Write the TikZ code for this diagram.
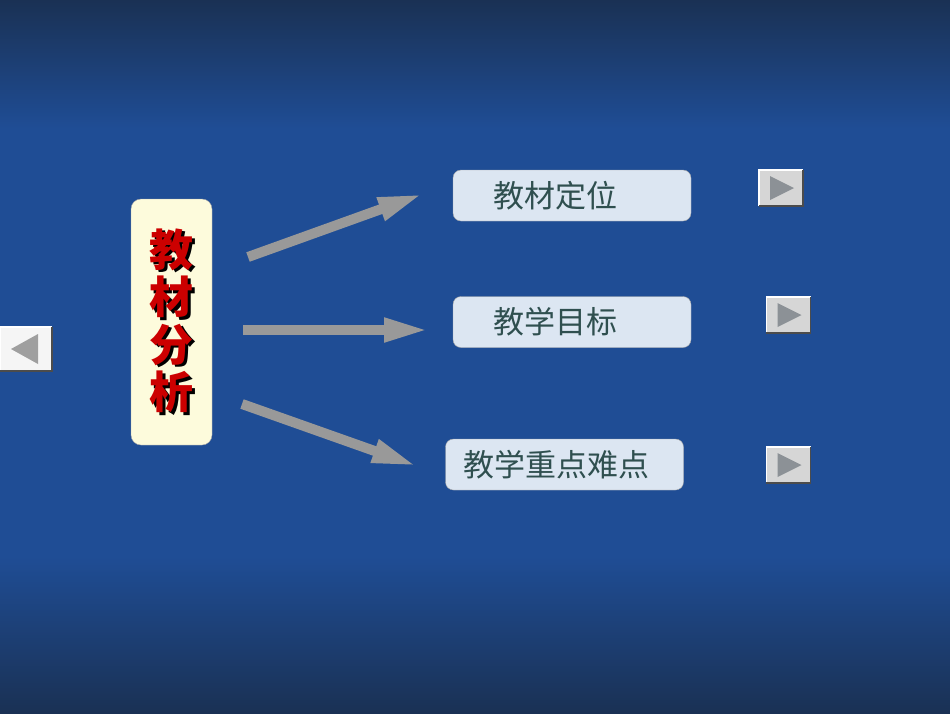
\documentclass[tikz,border=0pt]{standalone}
\usepackage{fontspec}
\newfontfamily\cjk{Noto Sans CJK SC}
\usetikzlibrary{arrows.meta,positioning}
\definecolor{bgdark}{HTML}{1A3154}
\definecolor{bgmid}{HTML}{1F4D95}
\definecolor{boxyellow}{HTML}{FDFBDC}
\definecolor{boxblue}{HTML}{DCE6F2}
\definecolor{boxtext}{HTML}{2F4F4F}
\definecolor{btnface}{HTML}{D6D6D6}
\definecolor{btntri}{HTML}{8C9196}
\pgfdeclareverticalshading{bgshade}{100bp}{color(0bp)=(bgdark); color(25bp)=(bgdark); color(36bp)=(bgmid); color(66bp)=(bgmid); color(75bp)=(bgdark); color(100bp)=(bgdark)}
% one character with a black drop shadow behind it
\newcommand\shchar[1]{\rlap{\raisebox{-2.5pt}{\kern2.5pt\textcolor{black}{#1}}}#1}
\tikzset{
  basic/.style  = {draw=gray!70, font=\cjk, rectangle, thin},
  main/.style   = {basic, rounded corners=10pt, fill=boxyellow, minimum width=81pt, minimum height=246pt,
                   text=red!80!black, font=\cjk\bfseries\fontsize{44pt}{47.5pt}\selectfont, align=center},
  topic/.style  = {basic, rounded corners=8pt, fill=boxblue, text=boxtext, font=\cjk\fontsize{31pt}{33pt}\selectfont,
                   minimum width=238pt, minimum height=51pt, text width=202pt, inner xsep=18pt, align=left},
  navbtn/.style = {rectangle, fill=btnface, minimum width=44pt, minimum height=36pt, inner sep=0pt},
  bigarrow/.style = {draw=gray!80, line width=10pt, -{Triangle[length=45pt,width=22pt]}}
}
\begin{document}
\begin{tikzpicture}[x=1pt,y=-1pt]

% background
\shade[shading=bgshade] (0,0) rectangle (950,713);
\useasboundingbox (0,0) rectangle (950,713);

% main box with shadowed title
\node[main] (fx) at (171.5,322) {\shchar{教}\\\shchar{材}\\\shchar{分}\\\shchar{析}};

% the three topics
\node[topic] (t1) at (572,195.5) {\hspace*{22pt}教材定位};
\node[topic] (t2) at (572,322) {\hspace*{22pt}教学目标};
\node[topic] (t3) at (564.5,464.5) {教学重点难点};

% arrows
\coordinate (s1) at (248,257);
\coordinate (e1) at (423,194);
\coordinate (s2) at (243,330);
\coordinate (e2) at (429,330);
\coordinate (s3) at (242,404);
\coordinate (e3) at (417,466);
\draw[bigarrow] (s1) -- (e1);
\draw[bigarrow] (s2) -- (e2);
\draw[bigarrow] (s3) -- (e3);

% navigation buttons
\node[navbtn] (nb1) at (781,188) {};
\node[navbtn] (nb2) at (788.5,315) {};
\node[navbtn] (nb3) at (788.5,465) {};
\node[navbtn, fill=gray!8, minimum width=52pt, minimum height=44pt] (nbl) at (26,349) {};
\foreach \b in {nb1,nb2,nb3,nbl} {
  \draw[white, line width=1.5pt] (\b.south west) -- (\b.north west) -- (\b.north east);
  \draw[gray!60!black, line width=1.5pt] (\b.north east) -- (\b.south east) -- (\b.south west);
}
\foreach \b in {nb1,nb2,nb3}
  \fill[btntri] ([shift={(-11,-12)}]\b.center) -- ([shift={(-11,12)}]\b.center) -- ([shift={(13,0)}]\b.center) -- cycle;
\fill[gray!75] ([shift={(12,-15)}]nbl.center) -- ([shift={(12,15)}]nbl.center) -- ([shift={(-15,0)}]nbl.center) -- cycle;

\end{tikzpicture}
\end{document}
